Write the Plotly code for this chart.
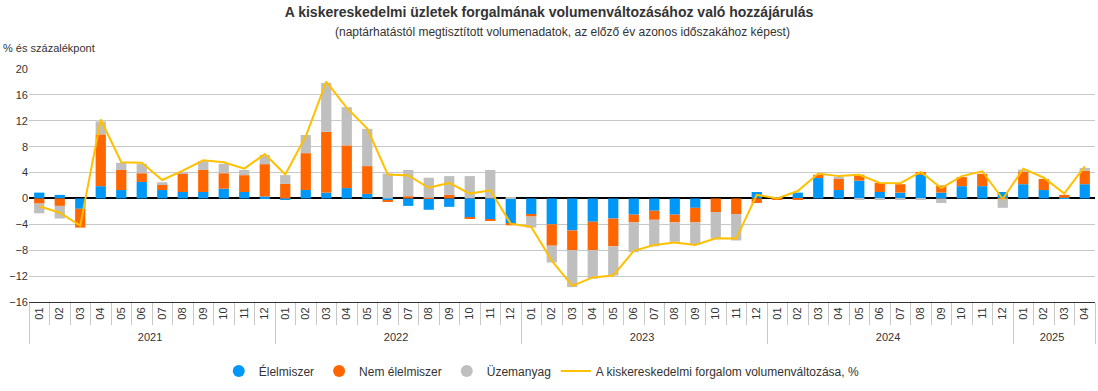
import plotly.graph_objects as go

years = ["2021"] * 12 + ["2022"] * 12 + ["2023"] * 12 + ["2024"] * 12 + ["2025"] * 4
months = [f"{m:02d}" for m in range(1, 13)] * 4 + ["01", "02", "03", "04"]

elelmiszer = [0.9, 0.55, -1.6, 1.9, 1.3, 2.55, 1.3, 1.0, 1.0, 1.5, 1.0, 0.3,
              -0.2, 1.3, 0.9, 1.6, 0.7, -0.3, -1.15, -1.75, -1.3, -3.0, -3.3, -3.8,
              -2.4, -4.0, -4.95, -3.6, -3.1, -2.5, -1.9, -2.5, -1.45, 0.0, 0.0, 1.0,
              0.1, 0.9, 3.15, 1.3, 2.75, 1.0, 0.9, 3.65, 0.9, 1.9, 1.9, 1.0,
              2.2, 1.3, 0.1, 2.2]
nem_elelmiszer = [-0.8, -1.15, -2.9, 8.0, 3.1, 1.35, 0.9, 2.8, 3.4, 2.4, 2.6, 5.0,
                  2.25, 5.7, 9.4, 6.6, 4.3, -0.2, 0.35, 0.1, 0.55, -0.15, -0.1, -0.35,
                  -0.4, -3.3, -3.05, -4.4, -4.3, -1.2, -1.4, -1.2, -2.25, -2.1, -2.4, -0.7,
                  -0.1, -0.2, 0.5, 1.7, 0.9, 1.4, 1.3, 0.45, 1.1, 1.4, 1.9, -0.05,
                  1.9, 1.7, 0.45, 2.05]
uzemanyag = [-1.5, -1.95, 0.0, 2.0, 1.1, 1.45, 0.3, 0.3, 1.35, 1.45, 0.8, 1.4,
             1.35, 2.8, 7.55, 5.9, 5.75, 3.85, 4.05, 3.1, 2.9, 3.45, 4.4, 0.1,
             -1.7, -2.6, -5.7, -4.4, -4.5, -4.6, -4.1, -3.0, -3.4, -4.1, -4.1, 0.0,
             0.0, 0.0, 0.0, 0.35, -0.2, -0.2, -0.2, -0.2, -0.7, 0.0, 0.0, -1.4,
             0.35, 0.0, 0.0, 0.45]
forgalom = [-1.2, -2.2, -4.2, 12.2, 5.6, 5.5, 2.85, 4.3, 5.9, 5.6, 4.6, 6.85,
            3.7, 9.6, 18.05, 14.0, 10.8, 3.7, 3.55, 1.65, 2.4, 0.75, 1.25, -3.9,
            -4.4, -9.6, -13.5, -12.2, -11.9, -8.1, -7.2, -6.8, -7.2, -6.15, -6.2, 0.55,
            0.0, 1.15, 3.85, 3.45, 3.65, 2.4, 2.35, 4.1, 1.6, 3.45, 4.2, -0.1,
            4.6, 3.2, 0.75, 4.95]

y_ticks = list(range(-16, 21, 4))

C_BLUE = "#0098F8"
C_ORANGE = "#FF6600"
C_GRAY = "#BFBFBF"
C_LINE = "#FFC000"
FONT = "Liberation Sans, Arial, sans-serif"

x = [years, months]
fig = go.Figure()
for name, vals, col in [("Élelmiszer", elelmiszer, C_BLUE),
                        ("Nem élelmiszer", nem_elelmiszer, C_ORANGE),
                        ("Üzemanyag", uzemanyag, C_GRAY)]:
    fig.add_trace(go.Bar(x=x, y=vals, name=name, marker=dict(color=col, line_width=0),
                         showlegend=False))
fig.add_trace(go.Scatter(x=x, y=forgalom, mode="lines", name="A kiskereskedelmi forgalom volumenváltozása, %",
                         line=dict(color=C_LINE, width=2), showlegend=False))

# legend entries (circle symbols like the reference)
for name, col in [("Élelmiszer", C_BLUE), ("Nem élelmiszer", C_ORANGE), ("Üzemanyag", C_GRAY)]:
    fig.add_trace(go.Scatter(x=[None], y=[None], mode="markers", name=name,
                             marker=dict(color=col, size=12, symbol="circle")))
fig.add_trace(go.Scatter(x=[None], y=[None], mode="lines",
                         name="A kiskereskedelmi forgalom volumenváltozása, %",
                         line=dict(color=C_LINE, width=2)))

fig.update_layout(
    width=1098, height=391,
    barmode="relative", bargap=0.5,
    plot_bgcolor="white", paper_bgcolor="white",
    font=dict(family=FONT, size=11, color="#333333"),
    margin=dict(l=29, r=3, t=69, b=89),
    title=dict(text="<b>A kiskereskedelmi üzletek forgalmának volumenváltozásához való hozzájárulás</b>",
               x=0.5, xanchor="center", yref="container", y=0.968, yanchor="middle",
               font=dict(size=14, color="#333333", family=FONT)),
    legend=dict(orientation="h", x=0.481, xanchor="center", yref="container", y=0.051, yanchor="middle",
                font=dict(size=12, color="#333333"), itemwidth=30, tracegroupgap=0),
    xaxis=dict(type="multicategory", range=[-0.5, 51.5], automargin=False,
               showgrid=False, showline=True, linecolor="#333333", linewidth=1,
               ticks="outside", tickson="boundaries", ticklen=22, tickcolor="#C8C8C8",
               tickangle=-90, tickfont=dict(size=11, color="#333333"),
               showdividers=True, dividercolor="#C8C8C8", dividerwidth=1),
    yaxis=dict(range=[-16, 20], tickvals=y_ticks, automargin=False,
               showgrid=True, gridcolor="#C8C8C8", gridwidth=1,
               zeroline=True, zerolinecolor="#000000", zerolinewidth=1.5,
               tickfont=dict(size=11, color="#333333"), ticks="", fixedrange=True),
    annotations=[
        dict(text="(naptárhatástól megtisztított volumenadatok, az előző év azonos időszakához képest)",
             xref="paper", yref="paper", x=0.5, y=1.0, yshift=37, xanchor="center", yanchor="middle",
             showarrow=False, font=dict(size=12, color="#333333")),
        dict(text="% és százalékpont", xref="paper", yref="paper", x=-0.0265, xanchor="left",
             y=1.0, yshift=21, yanchor="middle", showarrow=False, font=dict(size=11, color="#333333")),
    ],
)

fig.write_html("out.html", config={"displayModeBar": False},
               post_script="document.body.style.margin='0';")
